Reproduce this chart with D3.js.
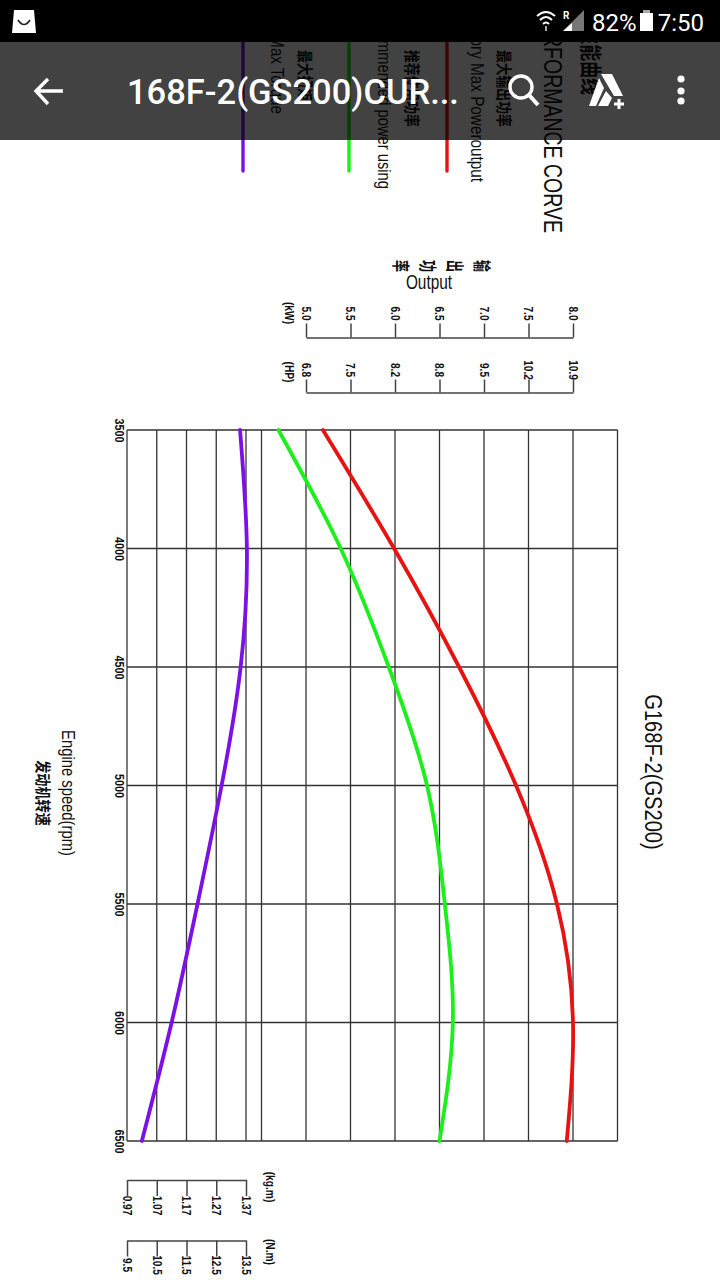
<!DOCTYPE html>
<html>
<head>
<meta charset="utf-8">
<script src="https://cdn.jsdelivr.net/npm/d3@7"></script>
<style>
  html, body { margin: 0; padding: 0; background: #fff; }
  svg { display: block; }
  text { fill: #111; font-family: "Liberation Sans", sans-serif; }
  .tick-label { font-size: 13.5px; font-weight: bold; }
  .cjk { font-family: "Noto Sans CJK SC", sans-serif; font-weight: bold; }
  .axis path, .axis line { stroke: #444; stroke-width: 1.5; }
  .grid line { stroke: #333; stroke-width: 1.3; }
  .curve { fill: none; stroke-width: 3.8; stroke-linecap: round; }
</style>
</head>
<body>
<svg id="chart" width="720" height="1280"></svg>
<script>
// values
const rpmValues = [3500, 4000, 4500, 5000, 5500, 6000, 6500];
const maxPower = [5.19, 5.99, 6.72, 7.36, 7.82, 8.00, 7.93];
const recommendedPower = [4.69, 5.39, 5.93, 6.36, 6.56, 6.65, 6.50];
const maxTorque = [13.30, 13.53, 13.32, 12.68, 11.87, 11.00, 10.00];

const rpmTicks = [3500, 4000, 4500, 5000, 5500, 6000, 6500];
const kwTicks = [5.0, 5.5, 6.0, 6.5, 7.0, 7.5, 8.0];
const hpLabels = ['6.8', '7.5', '8.2', '8.8', '9.5', '10.2', '10.9'];
const kwGrid = [4.5, 5.0, 5.5, 6.0, 6.5, 7.0, 7.5, 8.0, 8.5];
const nmTicks = [9.5, 10.5, 11.5, 12.5, 13.5];
const kgmLabels = ['0.97', '1.07', '1.17', '1.27', '1.37'];

const legendNames = ['Max Torque', 'Recommended power using', 'Factory Max Poweroutput'];
const legendCjk = ['最大扭矩', '推荐使用功率', '最大输出功率'];
const legendColors = ['#7d10e4', '#1cf01c', '#e81212'];
const outputChars = ['输', '出', '功', '率'];

const svg = d3.select('#chart');

// the sheet is photographed on its side: rpm runs down the screen, output runs to the right
const yRpm = d3.scaleLinear().domain([3500, 6500]).range([430, 1141]);
const xKw = d3.scaleLinear().domain([5, 8]).range([306, 573]);
const xNm = d3.scaleLinear().domain([9.5, 13.5]).range([127, 246]);

// rotated text helper, sx squeezes the glyphs along the reading direction (CAD font look)
function label(text, x, y, size, opts = {}) {
  const rot = opts.rotate === undefined ? 90 : opts.rotate;
  return svg.append('text')
      .attr('class', opts.cls || null)
      .attr('transform', `translate(${x},${y}) rotate(${rot}) scale(${opts.sx || 1},1)`)
      .attr('text-anchor', opts.anchor || 'middle')
      .attr('dominant-baseline', 'central')
      .attr('font-size', size)
      .attr('font-weight', opts.weight || null)
      .text(text);
}

// grid
const grid = svg.append('g').attr('class', 'grid');
grid.selectAll('.h').data(rpmTicks).join('line')
    .attr('x1', xNm(9.5)).attr('x2', xKw(8.5))
    .attr('y1', d => yRpm(d)).attr('y2', d => yRpm(d));
grid.selectAll('.kw').data(kwGrid).join('line').attr('class', 'kw')
    .attr('x1', d => xKw(d)).attr('x2', d => xKw(d))
    .attr('y1', yRpm(3500)).attr('y2', yRpm(6500));
grid.selectAll('.nm').data(nmTicks).join('line').attr('class', 'nm')
    .attr('x1', d => xNm(d)).attr('x2', d => xNm(d))
    .attr('y1', yRpm(3500)).attr('y2', yRpm(6500));

// rpm labels
const rpmAxis = svg.append('g').attr('class', 'axis')
    .attr('transform', `translate(${xNm(9.5)},0)`)
    .call(d3.axisLeft(yRpm).tickValues(rpmTicks).tickSize(0).tickFormat(d3.format('d')));
rpmAxis.select('.domain').remove();
rpmAxis.selectAll('text')
    .attr('class', 'tick-label')
    .attr('x', null).attr('dy', null)
    .attr('text-anchor', 'middle')
    .attr('dominant-baseline', 'central')
    .attr('transform', 'translate(-8,0) rotate(90) scale(0.8,1)');

// side scales
function sideAxis(gen, y, labelOffset) {
  const g = svg.append('g').attr('class', 'axis')
      .attr('transform', `translate(0,${y})`)
      .call(gen);
  g.selectAll('text')
      .attr('class', 'tick-label')
      .attr('y', null).attr('dy', null)
      .attr('text-anchor', 'middle')
      .attr('dominant-baseline', 'central')
      .attr('transform', `translate(0,${labelOffset}) rotate(90) scale(0.75,1)`);
}
const hpByKw = new Map(kwTicks.map((k, i) => [k, hpLabels[i]]));
const kgmByNm = new Map(nmTicks.map((n, i) => [n, kgmLabels[i]]));

sideAxis(d3.axisTop(xKw).tickValues(kwTicks).tickSize(14).tickSizeOuter(0).tickFormat(d3.format('.1f')), 337.5, -24);
sideAxis(d3.axisTop(xKw).tickValues(kwTicks).tickSize(13).tickSizeOuter(0).tickFormat(d => hpByKw.get(d)), 392.5, -22.5);
sideAxis(d3.axisBottom(xNm).tickValues(nmTicks).tickSize(16).tickSizeOuter(0).tickFormat(d => kgmByNm.get(d)), 1180, 25.5);
sideAxis(d3.axisBottom(xNm).tickValues(nmTicks).tickSize(16).tickSizeOuter(0).tickFormat(d3.format('.1f')), 1240.5, 24.5);

label('(kW)', 289, 313, 12, {weight: 'bold', sx: 0.85});
label('(HP)', 289, 372, 12, {weight: 'bold', sx: 0.85});
label('(kg.m)', 270, 1187, 12, {weight: 'bold', sx: 0.85});
label('(N.m)', 270, 1252, 12, {weight: 'bold', sx: 0.85});

// curves
const powerLine = d3.line()
    .x(d => xKw(d[1])).y(d => yRpm(d[0]))
    .curve(d3.curveNatural);
const torqueLine = d3.line()
    .x(d => xNm(d[1])).y(d => yRpm(d[0]))
    .curve(d3.curveNatural);

svg.append('path').attr('class', 'curve').attr('stroke', legendColors[2])
    .attr('d', powerLine(d3.zip(rpmValues, maxPower)));
svg.append('path').attr('class', 'curve').attr('stroke', legendColors[1])
    .attr('d', powerLine(d3.zip(rpmValues, recommendedPower)));
svg.append('path').attr('class', 'curve').attr('stroke', legendColors[0])
    .attr('d', torqueLine(d3.zip(rpmValues, maxTorque)));

// titles
label('G168F-2(GS200)', 653, 772, 23, {sx: 0.875});
label('Engine speed(rpm)', 68, 793, 19, {sx: 0.78});
label('发动机转速', 44, 793, 16, {cls: 'cjk', sx: 0.82});
label('Output', 429, 282, 20, {rotate: 0, sx: 0.77});
outputChars.forEach((c, i) => label(c, 483 - i * 27, 266, 18, {cls: 'cjk', sx: 0.67}));

// legend, runs up under the status bar
const legendX = [243, 349, 447];
const legendTextX = [277, 385, 477];
const legendCjkX = [306, 413, 505];
const legendEnd = [114, 189, 182];
const legendSqueeze = [0.84, 0.82, 0.85];
legendNames.forEach((name, i) => {
  svg.append('line')
      .attr('x1', legendX[i]).attr('x2', legendX[i])
      .attr('y1', 30).attr('y2', 171)
      .attr('stroke', legendColors[i]).attr('stroke-width', 3.4).attr('stroke-linecap', 'round');
  label(name, legendTextX[i], legendEnd[i], 18, {anchor: 'end', sx: legendSqueeze[i]});
  label(legendCjk[i], legendCjkX[i], 50, 16, {cls: 'cjk', anchor: 'start', sx: 0.8});
});
label('PERFORMANCE CORVE', 552, 233, 25, {anchor: 'end', sx: 0.78});
label('性能曲线', 593, 95, 22, {cls: 'cjk', anchor: 'end', sx: 0.77});

// phone chrome on top of the sheet
svg.append('rect').attr('x', 0).attr('y', 42).attr('width', 720).attr('height', 98).attr('fill', 'rgba(0,0,0,0.74)');
svg.append('rect').attr('x', 0).attr('y', 0).attr('width', 720).attr('height', 42).attr('fill', '#000');

function chromeText(t, x, y, size, anchor, weight) {
  svg.append('text').attr('x', x).attr('y', y)
      .attr('text-anchor', anchor || 'start')
      .attr('font-size', size)
      .attr('font-weight', weight || null)
      .style('font-family', 'Roboto, sans-serif')
      .style('fill', '#fff')
      .text(t);
}
chromeText('168F-2(GS200)CUR...', 127, 104, 34.5, 'start', 500);
chromeText('82%', 592, 31, 24);
chromeText('7:50', 704, 31, 24, 'end');

// notification bag
svg.append('path').attr('d', 'M14 10 H34 L36 33 H12 Z').attr('fill', '#fff');
svg.append('path').attr('d', 'M18 20 Q24 29 30 20').attr('fill', 'none').attr('stroke', '#222').attr('stroke-width', 1.6);

// wifi, signal, battery
const wifi = svg.append('g').attr('fill', 'none').attr('stroke', '#fff').attr('stroke-width', 2);
wifi.append('path').attr('d', 'M537 16 Q546 8 555 16');
wifi.append('path').attr('d', 'M540 20 Q546 14 552 20');
wifi.append('path').attr('d', 'M543 24 Q546 21 549 24');
svg.append('path').attr('d', 'M546 26 V31').attr('stroke', '#aaa').attr('stroke-width', 2);
chromeText('R', 563, 19, 10, 'start', 700);
svg.append('path').attr('d', 'M584 10 V31 H563 Z').attr('fill', '#777');
svg.append('path').attr('d', 'M572 31 V23 L563 31 Z').attr('fill', '#fff');
svg.append('rect').attr('x', 640).attr('y', 13).attr('width', 13).attr('height', 18).attr('fill', '#fff');
svg.append('rect').attr('x', 643).attr('y', 10).attr('width', 7).attr('height', 3).attr('fill', '#aaa');

// toolbar icons
const icons = svg.append('g').attr('fill', 'none').attr('stroke', '#fff').attr('stroke-width', 3.4);
icons.append('path').attr('d', 'M63 91 H36 M48 79 L36 91 L48 104');
icons.append('circle').attr('cx', 521).attr('cy', 87).attr('r', 11);
icons.append('path').attr('d', 'M529 95 L538 105').attr('stroke-width', 4);
svg.append('path').attr('d', 'M601 74 H612 L623 96 H614 Z M599 78 L604 88 L596 106 H589 Z M606 91 L612 98 L608 106 H598 Z').attr('fill', '#fff');
svg.append('path').attr('d', 'M619 99 V109 M614 104 H624').attr('stroke', '#fff').attr('stroke-width', 3);
svg.selectAll('.dot').data([79, 91, 101]).join('circle')
    .attr('cx', 681).attr('cy', d => d).attr('r', 3.6).attr('fill', '#fff');
</script>
</body>
</html>
